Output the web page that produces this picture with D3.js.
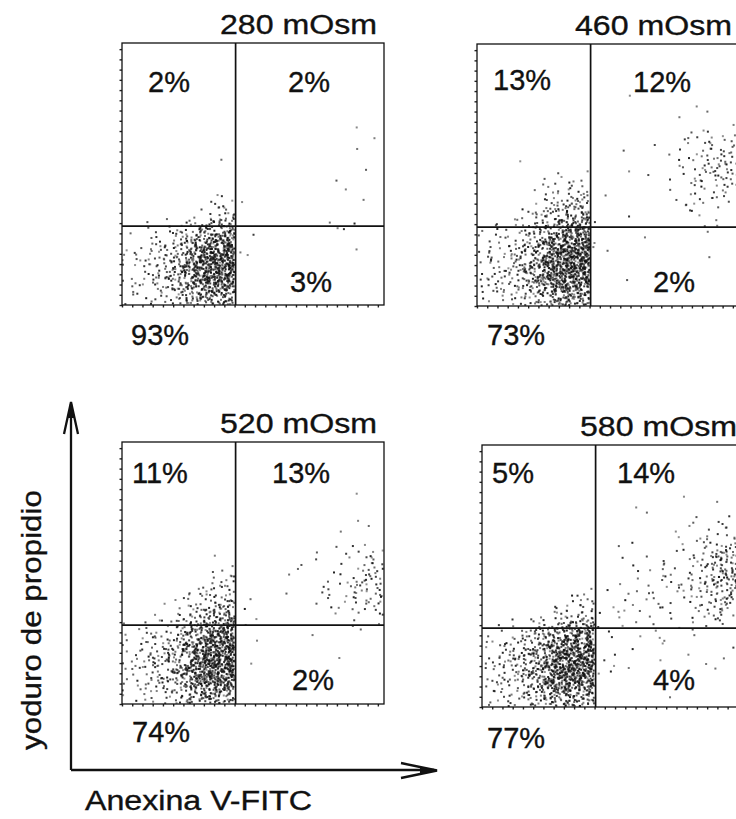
<!DOCTYPE html>
<html>
<head>
<meta charset="utf-8">
<script src="https://cdn.jsdelivr.net/npm/d3@7"></script>
<style>
  body { margin: 0; background: #fff; }
  svg { display: block; }
  text { font-family: "Liberation Sans", Arial, Helvetica, sans-serif; fill: #111; stroke: #111; stroke-width: 0.35; }
</style>
</head>
<body>
<svg id="chart" width="736" height="819"></svg>
<script>
// ---- data -------------------------------------------------------------
const titles = ["280 mOsm", "460 mOsm", "520 mOsm", "580 mOsm"];
// quadrant percentages: upper-left, upper-right, lower-right, lower-left
const pctUL = [2, 13, 11, 5];
const pctUR = [2, 12, 13, 14];
const pctLR = [3, 2, 2, 4];
const pctLL = [93, 73, 74, 77];
// quadrant gate (channel units, 0-256 linear)
const gateX = 111;
const gateY = 77;
const channelTicks = d3.range(0, 256, 10);
const xLabel = "Anexina V-FITC";
const yLabel = "yoduro de propidio";

// event density: events per 16x16-channel cell; rows run from the top
// (PI channel 240-256) down to the bottom (0-16), columns left to right.
const density280 = [
  [0,0,0,0,0,0,0,0,0,0,0,0,0,0,0,0],
  [0,0,0,0,0,0,0,0,0,0,0,0,0,0,0,0],
  [0,0,0,0,0,0,0,0,0,0,0,0,0,0,0,0],
  [0,0,0,0,0,0,0,0,0,0,0,0,0,0,0,0],
  [0,0,0,0,0,0,0,0,0,0,0,0,0,0,1,0],
  [0,0,0,0,0,0,0,0,0,0,0,0,0,0,0,1],
  [0,0,0,0,0,0,0,0,0,0,0,0,0,0,1,0],
  [0,0,0,0,0,0,1,0,0,0,0,0,0,0,1,0],
  [0,0,0,0,0,0,0,0,0,0,0,0,0,1,0,0],
  [0,0,0,0,0,2,4,0,0,0,0,0,0,1,1,0],
  [0,0,0,0,2,6,11,1,0,0,0,0,1,1,0,0],
  [1,2,4,9,20,36,42,1,0,0,0,0,0,1,1,0],
  [3,6,10,20,48,75,70,1,0,0,0,0,0,0,1,0],
  [4,8,14,30,65,95,80,1,0,0,0,0,0,0,0,0],
  [4,8,14,27,60,85,68,0,0,0,0,0,0,0,0,0],
  [2,4,7,13,27,36,27,0,0,0,0,0,0,0,0,0]
];
const density460 = [
  [0,0,0,0,0,0,0,0,0,0,0,0,0,0,0,0],
  [0,0,0,0,0,0,0,0,0,0,0,0,0,0,0,0],
  [0,0,0,0,0,0,0,0,0,1,0,0,0,0,0,0],
  [0,0,0,0,0,0,0,0,0,0,0,0,0,1,0,0],
  [0,0,0,0,0,0,0,0,0,0,0,0,1,0,1,0],
  [0,0,0,0,0,0,0,0,0,0,0,0,1,3,4,4],
  [0,0,0,0,0,0,0,0,1,0,0,1,3,5,9,8],
  [0,0,1,0,0,0,0,0,0,1,0,0,4,7,12,11],
  [0,0,0,1,3,5,5,0,0,0,1,0,3,5,9,7],
  [0,0,0,3,8,14,14,1,0,0,0,1,2,4,5,4],
  [0,0,3,7,18,30,28,1,0,1,0,0,1,2,2,0],
  [3,4,7,14,35,56,54,1,0,0,1,0,0,1,1,0],
  [4,8,14,28,62,90,78,1,0,0,0,0,0,0,1,0],
  [5,10,18,35,72,98,80,1,0,1,0,0,0,0,0,0],
  [5,10,16,31,64,85,66,0,0,0,0,0,0,0,0,0],
  [3,5,8,14,29,39,28,0,0,0,0,0,0,0,0,0]
];
const density520 = [
  [0,0,0,0,0,0,0,0,0,0,0,0,0,0,0,0],
  [0,0,0,0,0,0,0,0,0,0,0,0,0,0,0,0],
  [0,0,0,0,0,0,0,0,0,0,0,0,0,0,1,0],
  [0,0,0,0,0,0,0,0,0,0,0,0,0,0,0,0],
  [0,0,0,0,0,0,0,0,0,0,0,0,0,0,1,0],
  [0,0,0,0,0,0,0,0,0,0,0,0,0,1,0,1],
  [0,0,0,0,0,0,0,0,0,0,0,1,0,1,3,3],
  [0,0,0,0,0,1,3,0,0,0,1,0,1,3,5,8],
  [0,0,0,0,1,4,7,0,0,1,0,1,3,4,8,13],
  [0,0,0,3,6,12,15,1,0,0,1,1,3,4,8,10],
  [0,0,1,6,15,26,30,1,1,0,0,0,1,1,4,5],
  [3,4,8,14,32,56,60,1,0,0,0,1,0,0,1,0],
  [4,8,14,25,58,86,76,1,0,0,0,0,0,0,0,0],
  [5,10,16,30,68,98,80,1,0,0,0,0,0,1,0,0],
  [4,9,14,27,58,82,65,0,0,0,0,0,0,0,0,0],
  [3,5,7,13,26,36,26,0,0,0,0,0,0,0,0,0]
];
const density580 = [
  [0,0,0,0,0,0,0,0,0,0,0,0,0,0,0,0],
  [0,0,0,0,0,0,0,0,0,0,0,0,0,0,0,0],
  [0,0,0,0,0,0,0,0,0,0,0,0,1,0,0,0],
  [0,0,0,0,0,0,0,0,0,1,0,0,0,0,1,0],
  [0,0,0,0,0,0,0,0,0,0,1,0,1,1,2,1],
  [0,0,0,0,0,0,0,0,0,1,0,1,2,3,5,5],
  [0,0,0,0,0,0,0,0,1,0,1,2,3,6,16,18],
  [0,0,0,0,0,0,0,0,1,2,3,3,4,8,24,26],
  [0,0,0,0,0,0,0,0,1,2,3,4,6,10,24,22],
  [0,0,0,0,1,4,7,1,2,3,3,3,4,7,15,13],
  [0,0,0,3,7,13,15,2,2,2,2,3,3,4,5,4],
  [3,4,8,18,36,52,48,2,2,1,1,1,1,1,2,1],
  [4,8,17,34,65,82,64,1,1,1,1,1,0,1,1,0],
  [5,12,21,40,76,92,68,1,1,0,1,0,1,0,1,0],
  [5,10,19,36,67,80,55,1,1,0,0,1,0,0,0,0],
  [3,5,9,17,30,36,22,0,0,0,0,0,0,0,0,0]
];
const densities = [density280, density460, density520, density580];

// ---- layout -----------------------------------------------------------
const boxSize = 262;
const panelPos = [[122, 43], [477, 44], [122, 442], [482, 445]];
// label anchors inside each panel: [x, baseline] for UL, UR, LR, LL
const labelPos = [
  [[26, 49], [166, 49], [168, 249], [9, 302]],
  [[16, 46], [156, 48], [176, 248], [10, 301]],
  [[10, 41], [150, 41], [170, 248], [10, 300]],
  [[10, 38], [135, 38], [171, 245], [5, 303]]
];

const svg = d3.select("#chart");
const x = d3.scaleLinear().domain([0, 256]).range([0, boxSize]);
const y = d3.scaleLinear().domain([0, 256]).range([boxSize, 0]);
const cell = 16;

// Halton stipple: each cell's events get a tent-shaped spread (two summed
// quasi-uniform offsets) so neighbouring cells blend; box edges and the
// annexin gate act as mirrors so each population stays on its own side.
function halton(i, b) {
  let f = 1, r = 0;
  while (i > 0) { f /= b; r += f * (i % b); i = Math.floor(i / b); }
  return r;
}
function mirror(v, lo, hi) {
  if (v < lo) v = 2 * lo - v;
  if (v > hi) v = 2 * hi - v;
  return v;
}
function stipple(grid) {
  const pts = [];
  let k = 1;
  grid.forEach((row, i) => {
    const r = grid.length - 1 - i;
    row.forEach((n, c) => {
      const left = (c + 0.5) * cell < gateX;
      for (let j = 0; j < n; j++, k++) {
        const dx = halton(k, 2) + halton(k, 3) - 1;
        const dy = halton(k, 5) + halton(k, 7) - 1;
        let cx = (c + 0.5 + dx) * cell;
        let cy = (r + 0.5 + dy) * cell;
        cx = left ? mirror(cx, 0.5, gateX - 1) : mirror(cx, gateX + 1, 255.5);
        cy = mirror(cy, 0.5, 255.5);
        pts.push([cx, cy, halton(k, 11)]);
      }
    });
  });
  return pts;
}

titles.forEach((title, p) => {
  const [px, py] = panelPos[p];
  const g = svg.append("g").attr("transform", `translate(${px},${py})`);

  g.append("clipPath").attr("id", "clip" + p)
    .append("rect").attr("width", boxSize).attr("height", boxSize);

  g.append("g").attr("clip-path", `url(#clip${p})`)
    .selectAll("rect")
    .data(stipple(densities[p]))
    .join("rect")
    .attr("x", d => x(d[0]) - 1)
    .attr("y", d => y(d[1]) - 1)
    .attr("width", 2)
    .attr("height", 2)
    .attr("fill", "#121212")
    .attr("opacity", d => 0.45 + 0.5 * d[2]);

  // channel ticks along the bottom and left edges
  g.append("g").attr("transform", `translate(0,${boxSize})`)
    .call(d3.axisBottom(x).tickValues(channelTicks).tickSize(2.5).tickFormat(""))
    .call(a => a.select(".domain").remove())
    .call(a => a.selectAll("line").attr("stroke", "#222").attr("stroke-width", 1.4));
  g.append("g")
    .call(d3.axisLeft(y).tickValues(channelTicks).tickSize(2.5).tickFormat(""))
    .call(a => a.select(".domain").remove())
    .call(a => a.selectAll("line").attr("stroke", "#222").attr("stroke-width", 1.4));

  g.append("rect").attr("width", boxSize).attr("height", boxSize)
    .attr("fill", "none").attr("stroke", "#111").attr("stroke-width", 1.3);

  // quadrant gate
  g.append("line").attr("x1", x(gateX)).attr("x2", x(gateX))
    .attr("y1", 0).attr("y2", boxSize)
    .attr("stroke", "#111").attr("stroke-width", 1.7);
  g.append("line").attr("x1", 0).attr("x2", boxSize)
    .attr("y1", y(gateY)).attr("y2", y(gateY))
    .attr("stroke", "#111").attr("stroke-width", 1.7);

  g.append("text")
    .attr("x", boxSize - 7).attr("y", -9)
    .attr("text-anchor", "end")
    .attr("font-size", 27)
    .attr("textLength", 157).attr("lengthAdjust", "spacingAndGlyphs")
    .text(title);

  const pcts = [pctUL[p], pctUR[p], pctLR[p], pctLL[p]];
  pcts.forEach((v, q) => {
    g.append("text")
      .attr("x", labelPos[p][q][0]).attr("y", labelPos[p][q][1])
      .attr("font-size", 29)
      .text(v + "%");
  });
});

// overall axis arrows
const axes = svg.append("g").attr("fill", "none").attr("stroke", "#111")
  .attr("stroke-width", 2.3).attr("stroke-linejoin", "miter");
axes.append("path").attr("d", "M71,770V404M71,770H434");
axes.append("path").attr("d", "M64,434L71,402L78,434");
axes.append("path").attr("d", "M401,763L437,770.5L401,778");
svg.append("path").attr("fill", "#111").attr("d", "M67.5,418L71,402L74.5,418Z");
svg.append("path").attr("fill", "#111").attr("d", "M420,767L437,770.5L420,774Z");

svg.append("text")
  .attr("x", 85).attr("y", 810)
  .attr("font-size", 27)
  .attr("textLength", 227).attr("lengthAdjust", "spacingAndGlyphs")
  .text(xLabel);

svg.append("text")
  .attr("transform", "translate(41,620) rotate(-90)")
  .attr("text-anchor", "middle")
  .attr("font-size", 27)
  .attr("textLength", 260).attr("lengthAdjust", "spacingAndGlyphs")
  .text(yLabel);
</script>
</body>
</html>
